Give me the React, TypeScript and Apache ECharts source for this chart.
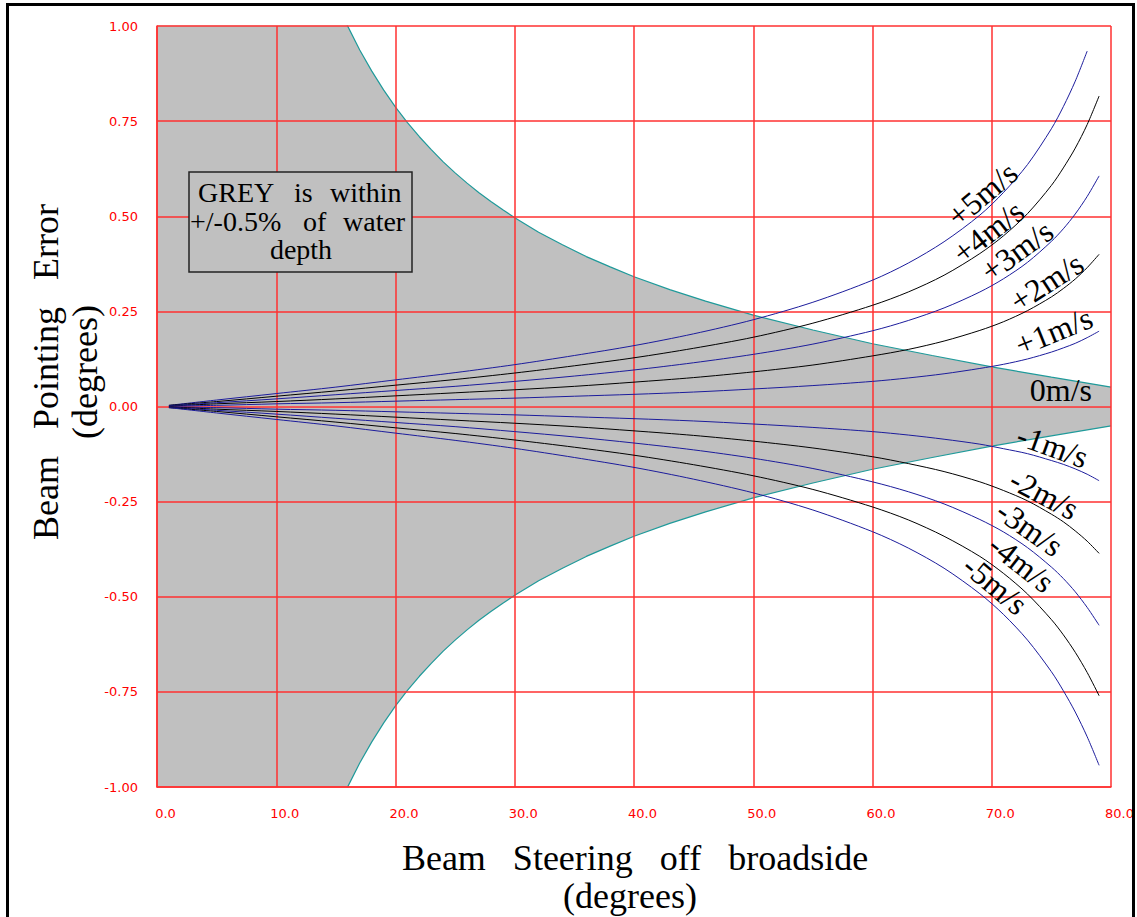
import React, { useEffect, useRef } from "react";
import * as echarts from "echarts";

// Beam steering angle (degrees) at which the velocity curves were read
const ANGLES = [1, 5, 10, 15, 20, 25, 30, 35, 40, 45, 50, 55, 60, 63, 66, 69, 71, 73, 75, 76, 77, 78, 79];

// Beam pointing error (degrees) for each sound-speed error (m/s)
const P5 = [0.003, 0.017, 0.034, 0.051, 0.070, 0.089, 0.110, 0.134, 0.160, 0.191, 0.228, 0.274, 0.332, 0.377, 0.433, 0.503, 0.563, 0.636, 0.730, 0.788, 0.855, 0.934];
const P4 = [0.003, 0.013, 0.027, 0.041, 0.056, 0.071, 0.088, 0.107, 0.128, 0.153, 0.182, 0.219, 0.266, 0.301, 0.345, 0.402, 0.449, 0.507, 0.581, 0.627, 0.679, 0.741, 0.816];
const P3 = [0.002, 0.010, 0.020, 0.031, 0.042, 0.053, 0.066, 0.080, 0.096, 0.115, 0.137, 0.164, 0.199, 0.226, 0.259, 0.301, 0.336, 0.379, 0.434, 0.467, 0.506, 0.552, 0.606];
const P2 = [0.001, 0.007, 0.013, 0.020, 0.028, 0.036, 0.044, 0.053, 0.064, 0.076, 0.091, 0.109, 0.133, 0.150, 0.172, 0.200, 0.223, 0.252, 0.288, 0.310, 0.335, 0.365, 0.400];
const P1 = [0.001, 0.003, 0.007, 0.010, 0.014, 0.018, 0.022, 0.027, 0.032, 0.038, 0.046, 0.055, 0.066, 0.075, 0.086, 0.100, 0.111, 0.125, 0.143, 0.154, 0.166, 0.181, 0.198];
const N1 = [-0.001, -0.003, -0.007, -0.010, -0.014, -0.018, -0.022, -0.027, -0.032, -0.038, -0.046, -0.055, -0.066, -0.075, -0.086, -0.099, -0.111, -0.124, -0.142, -0.152, -0.164, -0.178, -0.195];
const N2 = [-0.001, -0.007, -0.013, -0.020, -0.028, -0.036, -0.044, -0.053, -0.064, -0.076, -0.091, -0.109, -0.132, -0.150, -0.171, -0.198, -0.221, -0.248, -0.283, -0.303, -0.327, -0.354, -0.386];
const N3 = [-0.002, -0.010, -0.020, -0.031, -0.042, -0.053, -0.066, -0.080, -0.096, -0.114, -0.136, -0.163, -0.198, -0.224, -0.256, -0.297, -0.330, -0.371, -0.422, -0.452, -0.487, -0.528, -0.575];
const N4 = [-0.003, -0.013, -0.027, -0.041, -0.056, -0.071, -0.088, -0.107, -0.128, -0.153, -0.182, -0.218, -0.264, -0.298, -0.341, -0.394, -0.439, -0.493, -0.560, -0.600, -0.646, -0.699, -0.760];
const N5 = [-0.003, -0.017, -0.034, -0.051, -0.070, -0.089, -0.110, -0.134, -0.160, -0.191, -0.227, -0.272, -0.329, -0.372, -0.425, -0.492, -0.547, -0.614, -0.697, -0.747, -0.803, -0.868, -0.943];

// Grey tolerance band: +/-0.5% of water depth (values beyond +/-1 are clipped by the plot)
const BOUND_X = [0, 2, 4, 6, 8, 10, 12, 14, 15, 16, 17, 18, 19, 20, 21, 22, 23, 24, 25, 26, 27, 28, 29, 30, 32, 34, 36, 38, 40, 43, 46, 50, 55, 60, 65, 70, 75, 80];
const BOUND_UPPER = [20, 8.2, 4.1, 2.73, 2.04, 1.62, 1.35, 1.15, 1.069, 0.999, 0.937, 0.882, 0.832, 0.787, 0.746, 0.709, 0.675, 0.643, 0.614, 0.587, 0.562, 0.539, 0.517, 0.496, 0.458, 0.425, 0.394, 0.367, 0.341, 0.307, 0.277, 0.240, 0.201, 0.165, 0.134, 0.104, 0.077, 0.051];
const BOUND_LOWER = [-20, -8.2, -4.1, -2.73, -2.04, -1.62, -1.35, -1.15, -1.069, -0.999, -0.937, -0.882, -0.832, -0.787, -0.746, -0.709, -0.675, -0.643, -0.614, -0.587, -0.562, -0.539, -0.517, -0.496, -0.458, -0.425, -0.394, -0.367, -0.341, -0.307, -0.277, -0.240, -0.201, -0.165, -0.134, -0.104, -0.077, -0.051];

const X_TICKS = { min: 0, max: 80, interval: 10 };
const Y_TICKS = { min: -1, max: 1, interval: 0.25 };

const BLUE = "#1c1c9c";
const BLACK = "#000000";
const TEAL = "#1f9a9a";
const GRID_RED = "#ff3030";
const SERIF = "Liberation Serif";
const SANS = "DejaVu Sans";

const CURVES = [
  { name: "+5m/s", vals: P5, color: BLUE, label: { x: 69.2, y: 0.558, rot: 40 } },
  { name: "+4m/s", vals: P4, color: BLACK, label: { x: 69.7, y: 0.459, rot: 38 } },
  { name: "+3m/s", vals: P3, color: BLUE, label: { x: 72.1, y: 0.409, rot: 36 } },
  { name: "+2m/s", vals: P2, color: BLACK, label: { x: 74.6, y: 0.327, rot: 33 } },
  { name: "+1m/s", vals: P1, color: BLUE, label: { x: 75.2, y: 0.198, rot: 22 } },
  { name: "-1m/s", vals: N1, color: BLUE, label: { x: 75.1, y: -0.104, rot: -20 } },
  { name: "-2m/s", vals: N2, color: BLACK, label: { x: 74.4, y: -0.230, rot: -28 } },
  { name: "-3m/s", vals: N3, color: BLUE, label: { x: 73.2, y: -0.320, rot: -35 } },
  { name: "-4m/s", vals: N4, color: BLACK, label: { x: 72.5, y: -0.412, rot: -38 } },
  { name: "-5m/s", vals: N5, color: BLUE, label: { x: 70.3, y: -0.469, rot: -40 } },
];
const ZERO_LABEL = { name: "0m/s", x: 75.8, y: 0.043, rot: 0 };

const LABEL_STYLE = {
  show: true,
  position: "inside",
  color: "#000",
  fontFamily: SERIF,
  fontSize: 32,
  fontWeight: "normal",
  align: "center",
  verticalAlign: "middle",
};

function labelPoint(text: string, x: number, y: number, rot: number) {
  return {
    coord: [x, y],
    symbol: "circle",
    symbolSize: 0,
    itemStyle: { color: "rgba(0,0,0,0)" },
    label: { ...LABEL_STYLE, formatter: text, rotate: rot },
  };
}

function serifText(text: string, x: number, y: number, align: string, size = 28, rotation = 0) {
  return {
    type: "text",
    x,
    y,
    rotation,
    z: 60,
    silent: true,
    style: {
      text,
      fill: "#000",
      font: `${size}px "Liberation Serif", serif`,
      align,
      verticalAlign: "middle",
    },
  };
}

export default function App() {
  const ref = useRef<HTMLDivElement>(null);

  useEffect(() => {
    if (!ref.current) return;
    const chart = echarts.init(ref.current, undefined, { renderer: "svg" });

    const curveSeries = CURVES.map((c, idx) => {
      const pts = c.vals.map((v, i) => [ANGLES[i], v]);
      const marks = [labelPoint(c.name, c.label.x, c.label.y, c.label.rot)];
      if (idx === 4) marks.push(labelPoint(ZERO_LABEL.name, ZERO_LABEL.x, ZERO_LABEL.y, ZERO_LABEL.rot));
      return {
        type: "line",
        name: c.name,
        data: pts,
        showSymbol: false,
        smooth: 0.3,
        silent: true,
        z: 4,
        lineStyle: { color: c.color, width: 1 },
        markPoint: {
          silent: true,
          symbol: "circle",
          symbolSize: 0,
          label: { ...LABEL_STYLE },
          data: marks,
        },
      };
    });

    const bandSeries = [BOUND_UPPER, BOUND_LOWER].map((vals, k) => ({
      type: "line",
      name: k === 0 ? "upper tolerance" : "lower tolerance",
      data: vals.map((v, i) => [BOUND_X[i], v]),
      showSymbol: false,
      silent: true,
      z: 1,
      clip: true,
      lineStyle: { color: TEAL, width: 1.2 },
      areaStyle: { color: "#c0c0c0", opacity: 1, origin: 0 },
    }));

    chart.setOption({
      animation: false,
      backgroundColor: "#ffffff",
      grid: { left: 157, top: 26, right: 23, bottom: 130, containLabel: false },
      xAxis: {
        type: "value",
        min: X_TICKS.min,
        max: X_TICKS.max,
        interval: X_TICKS.interval,
        z: 3,
        axisLine: { show: true, onZero: false, lineStyle: { color: GRID_RED, width: 1.5 } },
        axisTick: { show: false },
        splitLine: { show: true, lineStyle: { color: GRID_RED, width: 1.5 } },
        axisLabel: {
          color: "#ff0000",
          fontFamily: SANS,
          fontSize: 13,
          margin: 20,
          padding: [0, 0, 0, 17],
          formatter: (v: number) => v.toFixed(1),
        },
      },
      yAxis: {
        type: "value",
        min: Y_TICKS.min,
        max: Y_TICKS.max,
        interval: Y_TICKS.interval,
        z: 3,
        axisLine: { show: true, onZero: false, lineStyle: { color: GRID_RED, width: 1.5 } },
        axisTick: { show: false },
        splitLine: { show: true, lineStyle: { color: GRID_RED, width: 1.5 } },
        axisLabel: {
          color: "#ff0000",
          fontFamily: SANS,
          fontSize: 13,
          margin: 19,
          padding: [6, 0, 0, 0],
          formatter: (v: number) => v.toFixed(2),
        },
      },
      series: [...bandSeries, ...curveSeries],
      graphic: {
        elements: [
          {
            type: "rect",
            z: 100,
            silent: true,
            shape: { x: 7.5, y: 4.5, width: 1126, height: 1000 },
            style: { fill: "none", stroke: "#000", lineWidth: 3 },
          },
          {
            type: "rect",
            z: 55,
            silent: true,
            shape: { x: 189, y: 172, width: 223, height: 100 },
            style: { fill: "#c0c0c0", stroke: "#222", lineWidth: 1.5 },
          },
          serifText("GREY", 198, 192.5, "left"),
          serifText("is", 294, 192.5, "left"),
          serifText("within", 330, 192.5, "left"),
          serifText("+/-0.5%", 190, 221, "left"),
          serifText("of", 303, 221, "left"),
          serifText("water", 343, 221, "left"),
          serifText("depth", 301, 249.5, "center"),
          serifText("Beam\u00a0\u00a0\u00a0Steering\u00a0\u00a0\u00a0off\u00a0\u00a0\u00a0broadside", 635, 858, "center", 36),
          serifText("(degrees)", 630, 896, "center", 36),
          serifText("Beam\u00a0\u00a0\u00a0Pointing\u00a0\u00a0\u00a0Error", 46, 372, "center", 36, Math.PI / 2),
          serifText("(degrees)", 85, 372, "center", 36, Math.PI / 2),
        ],
      },
    });

    return () => chart.dispose();
  }, []);

  return (
    <div
      ref={ref}
      style={{ position: "fixed", left: 0, top: 0, width: 1137, height: 917, background: "#fff" }}
    />
  );
}
